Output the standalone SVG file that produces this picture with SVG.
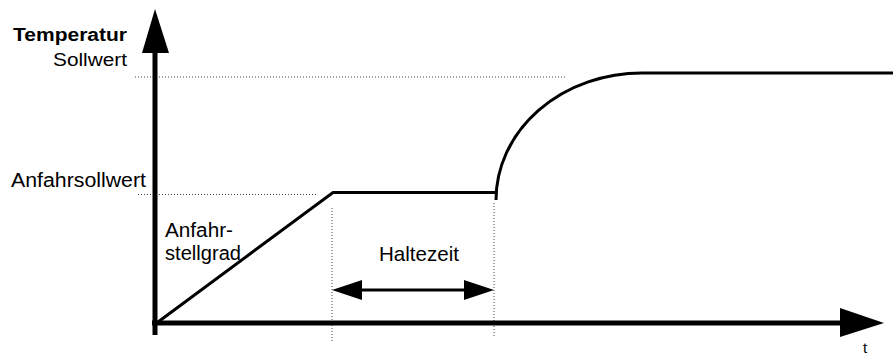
<svg xmlns="http://www.w3.org/2000/svg" width="893" height="356" viewBox="0 0 893 356">
<style>
.lbl{font-family:"Liberation Sans",Arial,sans-serif;fill:#000}
.dot{stroke:#444;stroke-width:1;stroke-dasharray:1 2;fill:none}
.axis{stroke:#000;stroke-width:5;fill:none}
.curve{stroke:#000;stroke-width:3;fill:none;stroke-linejoin:miter}
.head{fill:#000}
</style>
<rect width="893" height="356" fill="#fff"/>
<g id="guides">
<line class="dot" x1="135" y1="77" x2="567" y2="77"/>
<line class="dot" x1="138" y1="194.5" x2="318" y2="194.5"/>
<line class="dot" x1="332" y1="208" x2="332" y2="343"/>
<line class="dot" x1="494" y1="203" x2="494" y2="338"/>
</g>
<g id="connectors">
<g id="y-axis">
<line class="axis" x1="155" y1="50" x2="155" y2="335"/>
<polygon class="head" points="155,9 142,53 169,53"/>
</g>
<g id="x-axis">
<line class="axis" x1="152" y1="323" x2="843" y2="323"/>
<polygon class="head" points="884,323 840,308 840,337"/>
</g>
<g id="haltezeit-arrow">
<line stroke="#000" stroke-width="3" x1="360" y1="290" x2="466" y2="290"/>
<polygon class="head" points="332,290 362,280 362,300"/>
<polygon class="head" points="494,290 464,280 464,300"/>
</g>
</g>
<g id="curve">
<path class="curve" d="M158,322 L333,192.5 L495,192.5"/>
<path class="curve" d="M496,200 A146,127 0 0 1 642,73 L893,73"/>
</g>
<g id="labels">
<text class="lbl" x="13" y="41" font-size="17.5" font-weight="bold" textLength="114" lengthAdjust="spacingAndGlyphs">Temperatur</text>
<text class="lbl" x="53" y="66" font-size="18" textLength="74" lengthAdjust="spacingAndGlyphs">Sollwert</text>
<text class="lbl" x="11" y="187" font-size="19.5" textLength="135" lengthAdjust="spacingAndGlyphs">Anfahrsollwert</text>
<text class="lbl" x="165" y="237" font-size="20" textLength="68" lengthAdjust="spacingAndGlyphs">Anfahr-</text>
<text class="lbl" x="165" y="260" font-size="20" textLength="76" lengthAdjust="spacingAndGlyphs">stellgrad</text>
<text class="lbl" x="379" y="261" font-size="21" textLength="80" lengthAdjust="spacingAndGlyphs">Haltezeit</text>
<text class="lbl" x="865" y="353" font-size="15" text-anchor="middle">t</text>
</g>
</svg>
